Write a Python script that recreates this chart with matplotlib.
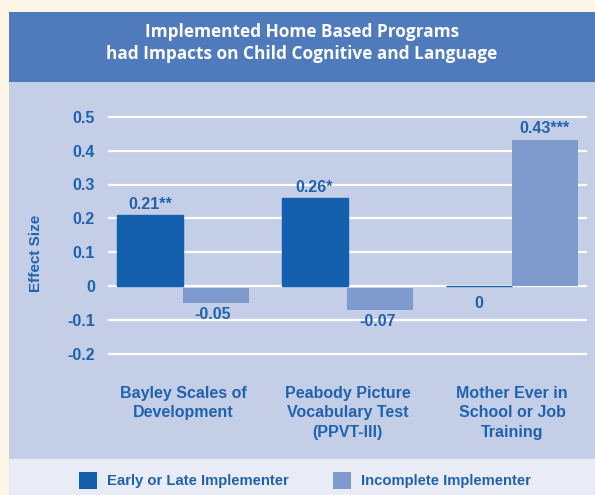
import numpy as np
import matplotlib.pyplot as plt
from matplotlib.patches import Rectangle

categories = ['Bayley Scales of\nDevelopment',
              'Peabody Picture\nVocabulary Test\n(PPVT-III)',
              'Mother Ever in\nSchool or Job\nTraining']
early = [0.21, 0.26, 0.0]
incomplete = [-0.05, -0.07, 0.43]
early_labels = ['0.21**', '0.26*', '0']
incomplete_labels = ['-0.05', '-0.07', '0.43***']
yticks = [-0.2, -0.1, 0, 0.1, 0.2, 0.3, 0.4, 0.5]
ytick_labels = ['-0.2', '-0.1', '0', '0.1', '0.2', '0.3', '0.4', '0.5']
series_names = ['Early or Late Implementer', 'Incomplete Implementer']

W, H = 595, 495
dark = '#1560ae'
light = '#7f9bcd'
txt = '#1f63ae'

fig = plt.figure(figsize=(W / 100, H / 100), dpi=100)
fig.patch.set_facecolor('#fdf5e5')


def band(x0, y0, x1, y1, color, z=-10):
    # pixel box (top-left origin) -> figure rectangle
    fig.patches.append(Rectangle((x0 / W, 1 - y1 / H), (x1 - x0) / W, (y1 - y0) / H,
                                 transform=fig.transFigure, facecolor=color,
                                 edgecolor='none', zorder=z))


band(9, 12, W, 82, '#4f7bbc')
band(9, 82, W, 459, '#c5cee7')
band(9, 459, W, H, '#e9ecf7')

fig.text((9 + W) / 2 / W, 1 - 43 / H,
         'Implemented Home Based Programs\nhad Impacts on Child Cognitive and Language',
         ha='center', va='center', color='white', fontsize=12.4, fontweight='bold',
         family='Open Sans', linespacing=1.35)

ax = fig.add_axes([109 / W, 1 - 354 / H, (586 - 109) / W, (354 - 116.7) / H])
ax.set_facecolor('none')
x = np.arange(len(categories))
bw = 0.4
ax.set_xlim(-0.45, 2.45)
ax.set_ylim(-0.2, 0.5)

for t in yticks:
    ax.axhline(t, color='white', lw=1.6, zorder=1, clip_on=False)

ax.bar(x - bw / 2, early, bw, color=dark, edgecolor=dark, linewidth=1, zorder=3)
ax.bar(x + bw / 2, [v if v > 0 else v + 0.005 for v in incomplete], bw,
       bottom=[0 if v > 0 else -0.005 for v in incomplete],
       color=light, zorder=3)

fs = 11.5
font = dict(family='Liberation Sans', fontweight='bold', color=txt)
for xi, v, lab in zip(x - bw / 2, early, early_labels):
    if lab == '0':
        ax.annotate(lab, (xi, 0), xytext=(0, -7), textcoords='offset points',
                    ha='center', va='top', fontsize=fs, **font)
    else:
        ax.annotate(lab, (xi, v), xytext=(0, 2), textcoords='offset points',
                    ha='center', va='bottom', fontsize=fs, **font)
for xi, v, lab in zip(x + bw / 2, incomplete, incomplete_labels):
    if v < 0:
        ax.annotate(lab, (xi, v), xytext=(-2, -3), textcoords='offset points',
                    ha='center', va='top', fontsize=fs, **font)
    else:
        ax.annotate(lab, (xi, v), xytext=(0, 3), textcoords='offset points',
                    ha='center', va='bottom', fontsize=fs, **font)

ax.set_yticks(yticks)
ax.set_yticklabels(ytick_labels, fontsize=fs, **font)
ax.tick_params(axis='y', length=0, pad=10)
ax.set_xticks(x)
ax.set_xticklabels(categories, fontsize=fs, linespacing=1.37, va='top', **font)
ax.tick_params(axis='x', length=0, pad=23)
for s in ax.spines.values():
    s.set_visible(False)

fig.text(36 / W, 1 - 253 / H, 'Effect Size', rotation=90, ha='center', va='center',
         fontsize=11, **font)

# legend
for sx, tx, col, name in [(79, 107, dark, series_names[0]), (333, 361, light, series_names[1])]:
    band(sx, 472, sx + 18, 489, col, z=1)
    fig.text(tx / W, 1 - 481 / H, name, ha='left', va='center', fontsize=10.7, **font)

plt.savefig('out.png', dpi=100, facecolor=fig.get_facecolor())
